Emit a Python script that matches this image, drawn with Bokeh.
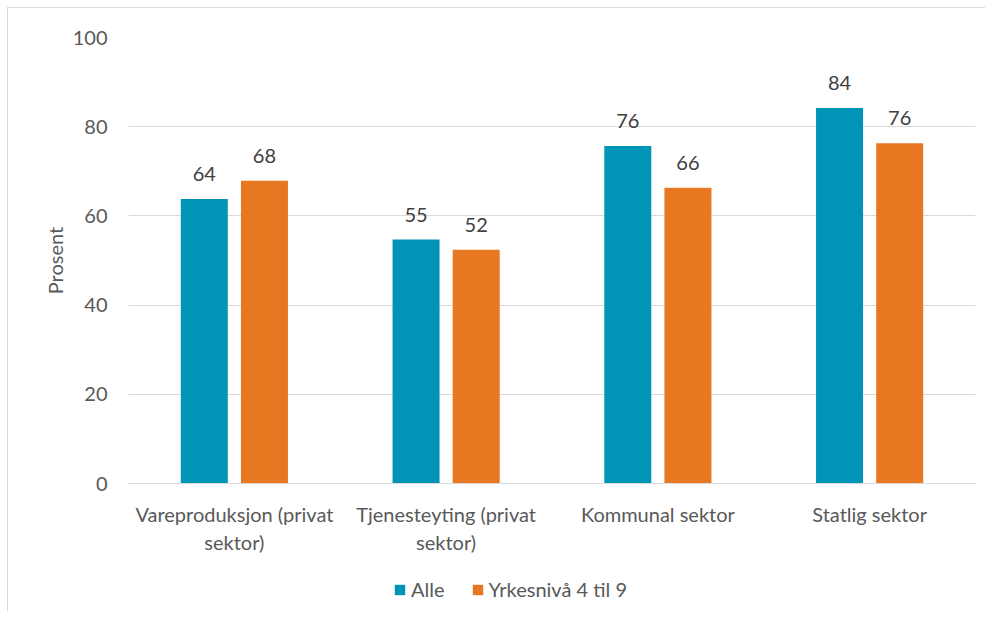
from bokeh.plotting import figure
from bokeh.models import ColumnDataSource, LabelSet, Legend, LegendItem, FactorRange
from bokeh.layouts import column
from bokeh.transform import dodge
from bokeh.core.properties import value
from bokeh.embed import file_html
from bokeh.resources import INLINE

categories = ["Vareproduksjon (privat\nsektor)", "Tjenesteyting (privat\nsektor)", "Kommunal sektor", "Statlig sektor"]
alle = [63.8, 54.7, 75.7, 84.2]
yrkesniva = [67.9, 52.4, 66.3, 76.3]
series_names = ["Alle", "Yrkesnivå 4 til 9"]
y_ticks = [0, 20, 40, 60, 80, 100]

FONT = "Lato"
FS = "20px"
TXT = "#595959"
C1 = "#0095B6"
C2 = "#E87722"

src = ColumnDataSource(dict(
    cat=categories,
    alle=alle,
    yrk=yrkesniva,
    alle_lbl=[str(round(v)) for v in alle],
    yrk_lbl=[str(round(v)) for v in yrkesniva],
))

p = figure(x_range=FactorRange(*categories), y_range=(0, 100),
           width=977, height=549, output_backend="svg", toolbar_location=None,
           min_border_left=120, min_border_right=10, min_border_top=29, min_border_bottom=70)
p.outline_line_color = None
p.background_fill_color = "white"

r1 = p.vbar(x=dodge("cat", -0.142, range=p.x_range), top="alle", width=0.222, source=src,
            fill_color=C1, line_color=None)
r2 = p.vbar(x=dodge("cat", 0.142, range=p.x_range), top="yrk", width=0.222, source=src,
            fill_color=C2, line_color=None)

for col, lbl, off in (("alle", "alle_lbl", -0.142), ("yrk", "yrk_lbl", 0.142)):
    ls = LabelSet(x=dodge("cat", off, range=p.x_range), y=col, text=lbl, source=src,
                  text_align="center", text_baseline="alphabetic", y_offset=18,
                  text_font=value(FONT), text_font_size=value(FS), text_color="#404040")
    p.add_layout(ls)

p.yaxis.ticker = y_ticks
p.ygrid.grid_line_color = "#d9d9d9"
p.ygrid.grid_line_width = 1
p.xgrid.grid_line_color = None
p.yaxis.axis_line_color = None
p.yaxis.major_tick_line_color = None
p.yaxis.minor_tick_line_color = None
p.yaxis.major_label_standoff = 15
p.yaxis.major_label_text_font = FONT
p.yaxis.major_label_text_font_size = FS
p.yaxis.major_label_text_color = TXT
p.yaxis.axis_label = "Prosent"
p.yaxis.axis_label_text_font = FONT
p.yaxis.axis_label_text_font_size = FS
p.yaxis.axis_label_text_font_style = "normal"
p.yaxis.axis_label_text_color = TXT
p.yaxis.axis_label_standoff = 3

p.xaxis.axis_line_color = "#d9d9d9"
p.xaxis.axis_line_width = 1
p.xaxis.major_tick_line_color = None
p.xaxis.minor_tick_line_color = None
p.xaxis.major_label_standoff = 12
p.xaxis.major_label_text_font = FONT
p.xaxis.major_label_text_font_size = FS
p.xaxis.major_label_text_color = TXT
p.xaxis.major_label_orientation = "horizontal"

# legend strip below the chart
lg = figure(width=977, height=54, x_range=(0, 1), y_range=(0, 1),
            output_backend="svg", toolbar_location=None,
            min_border_left=0, min_border_right=0, min_border_top=0, min_border_bottom=0)
lg.axis.visible = False
lg.grid.grid_line_color = None
lg.outline_line_color = None
# legend swatch renderers, kept outside the visible range
l1 = lg.vbar(x=[-5], top=[-5], width=0.1, fill_color=C1, line_color=None)
l2 = lg.vbar(x=[-5], top=[-5], width=0.1, fill_color=C2, line_color=None)
legend = Legend(items=[LegendItem(label=series_names[0], renderers=[l1]),
                       LegendItem(label=series_names[1], renderers=[l2])],
                orientation="horizontal", location=(265, 10),
                label_text_font=FONT, label_text_font_size=FS, label_text_color=TXT,
                glyph_width=13, glyph_height=13, label_standoff=5, spacing=26,
                padding=2, margin=0, border_line_color=None, background_fill_alpha=0)
lg.add_layout(legend, "center")

layout = column(p, lg, spacing=0,
                styles={"border-top": "1px solid #d9d9d9", "border-left": "1px solid #d9d9d9",
                        "margin-left": "7px", "margin-top": "7px"})

open("out.html", "w").write(file_html(layout, INLINE))
